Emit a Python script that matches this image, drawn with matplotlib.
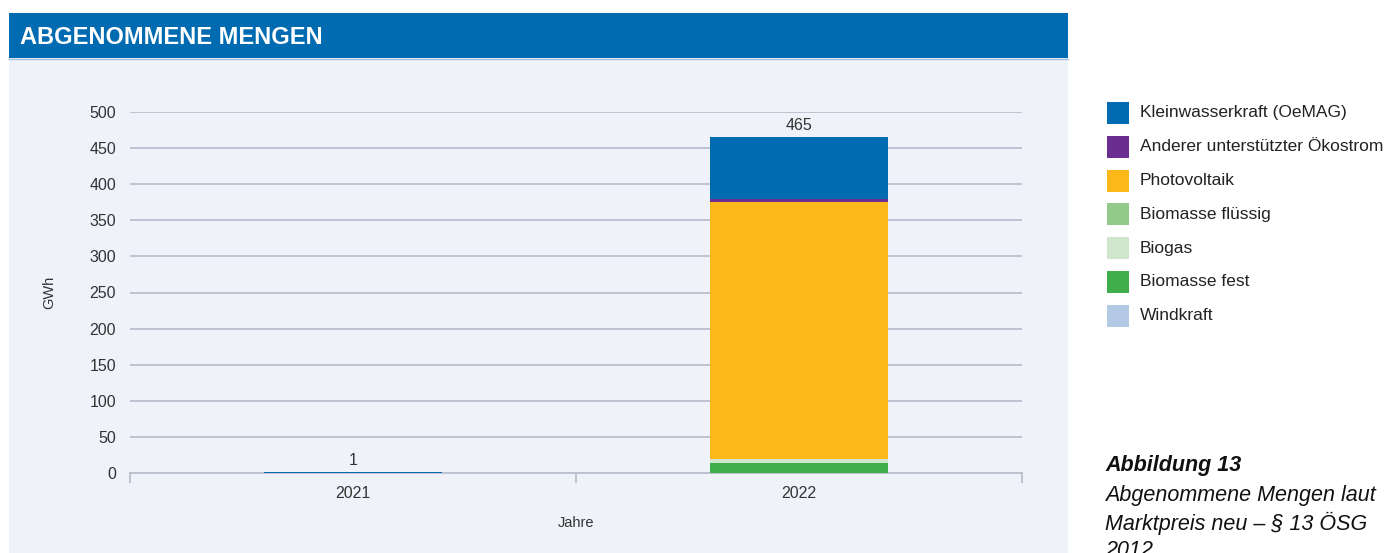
import matplotlib.pyplot as plt
import matplotlib.patches as patches
import numpy as np

plt.rcParams['font.family'] = ['Liberation Sans', 'DejaVu Sans']

years = ['2021', '2022']
series = ['Kleinwasserkraft (OeMAG)', 'Anderer unterstützter Ökostrom', 'Photovoltaik',
          'Biomasse flüssig', 'Biogas', 'Biomasse fest', 'Windkraft']
colors = ['#006bb0', '#6c2d91', '#fbb818', '#93c98b', '#cfe6cc', '#3fae49', '#b4c9e4']
# GWh per series and year
windkraft = [0, 0]
biomasse_fest = [0, 14]
biogas = [0, 5]
biomasse_fluessig = [0, 0]
photovoltaik = [0, 357]
anderer = [0, 4]
kleinwasser = [1, 85]
totals = ['1', '465']

# stacking order, bottom to top
stack = [('Windkraft', windkraft), ('Biomasse fest', biomasse_fest), ('Biogas', biogas),
         ('Biomasse flüssig', biomasse_fluessig), ('Photovoltaik', photovoltaik),
         ('Anderer unterstützter Ökostrom', anderer), ('Kleinwasserkraft (OeMAG)', kleinwasser)]
col = dict(zip(series, colors))

W, H = 1394, 553
fig = plt.figure(figsize=(W / 100, H / 100), dpi=100, facecolor='white')

# background panel and header
bg = fig.add_axes([0, 0, 1, 1], zorder=-10)
bg.set_xlim(0, W)
bg.set_ylim(H, 0)
bg.axis('off')
bg.add_patch(patches.Rectangle((9, 58), 1059, 500, facecolor='#eff2f8', edgecolor='none'))
bg.add_patch(patches.Rectangle((9, 13), 1059, 45, facecolor='#006bb0', edgecolor='none'))
bg.plot([9, 1068], [58.5, 58.5], color='#9cc3e4', lw=1)
bg.text(20, 37, 'ABGENOMMENE MENGEN', color='white', fontsize=17, fontweight='bold',
        va='center', ha='left')

ax = fig.add_axes([130 / W, 1 - 473 / H, 892 / W, (473 - 112) / H])
ax.set_facecolor('none')
x = np.arange(len(years))
bottom = np.zeros(len(years))
for name, vals in stack:
    ax.bar(x, vals, bottom=bottom, width=0.4, color=col[name], zorder=3)
    bottom += np.array(vals)
for i, t in enumerate(totals):
    ax.text(x[i], bottom[i] + 6, t, ha='center', va='bottom', fontsize=11.5, color='#333333')

ax.set_xlim(-0.5, 1.5)
ax.set_ylim(0, 500)
ax.set_yticks(np.arange(0, 501, 50))
ax.yaxis.grid(True, color='#b9c0ce', lw=1.3, zorder=0)
ax.set_axisbelow(True)
for s in ['top', 'right', 'left']:
    ax.spines[s].set_visible(False)
ax.spines['bottom'].set_color('#b9c0ce')
ax.spines['bottom'].set_linewidth(1.3)
ax.tick_params(axis='y', length=0, pad=10, labelsize=11.5, labelcolor='#333333')
ax.set_xticks(x)
ax.set_xticklabels(years)
ax.tick_params(axis='x', length=0, pad=9, labelsize=11.5, labelcolor='#333333')
ax.set_xticks([-0.5, 0.5, 1.5], minor=True)
ax.tick_params(axis='x', which='minor', length=7, color='#b9c0ce', width=1.3)
ax.set_ylabel('GWh', fontsize=10.5, color='#333333', labelpad=24)
ax.set_xlabel('Jahre', fontsize=10.5, color='#333333', labelpad=11)

# legend
for i, name in enumerate(series):
    yy = 113 + i * 33.8
    bg.add_patch(patches.Rectangle((1107, yy - 11), 22, 22, facecolor=colors[i], edgecolor='none'))
    bg.text(1140, yy, name, fontsize=12.5, color='#222222', va='center', ha='left')

# caption
cap = dict(fontsize=15.5, style='italic', color='#111111', va='center', ha='left')
bg.text(1105, 466, 'Abbildung 13', fontweight='bold', **cap)
bg.text(1105, 496, 'Abgenommene Mengen laut', **cap)
bg.text(1105, 523, 'Marktpreis neu – § 13 ÖSG', **cap)
bg.text(1105, 551, '2012', **cap)

fig.savefig('out.png', dpi=100, facecolor='white')
